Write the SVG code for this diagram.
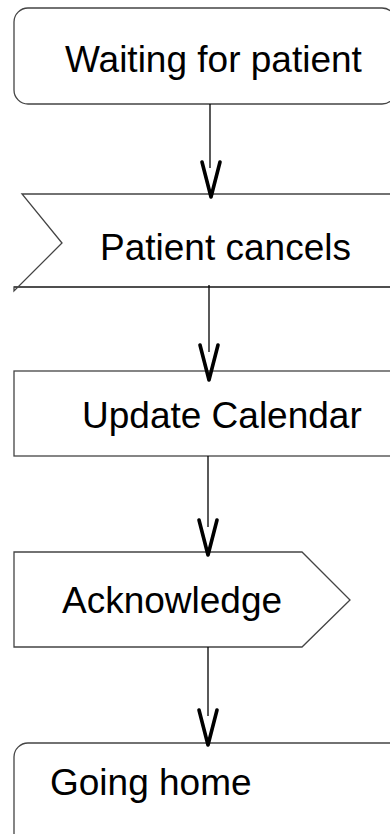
<svg xmlns="http://www.w3.org/2000/svg" xmlns:xlink="http://www.w3.org/1999/xlink" width="390" height="834" viewBox="0 0 390 834">
  <style>
    .shape { fill: #ffffff; stroke: #444444; stroke-width: 1.3; }
    .label { font-family: "Liberation Sans", Arial, sans-serif; font-size: 37px; fill: #000000; }
    .flow { fill: none; stroke: #000000; stroke-width: 1.3; }
    .head { fill: none; stroke: #000000; stroke-width: 3.6; stroke-linecap: round; stroke-linejoin: round; }
  </style>
  <defs>
    <!-- open "V" arrowhead, tip at the origin -->
    <path id="vhead" class="head" d="M-9,-35 L0,0 L9,-35"/>
  </defs>

  <g id="waiting-for-patient">
    <rect class="shape" x="14" y="8" width="382" height="96" rx="14" ry="14"/>
    <text class="label" x="65" y="72">Waiting for patient</text>
  </g>

  <g id="patient-cancels">
    <path class="shape" d="M22,194 H400 V287 H14 L14,291 L62,243 Z"/>
    <path class="shape" d="M14,287 H400"/>
    <text class="label" x="100" y="260">Patient cancels</text>
  </g>

  <g id="update-calendar">
    <rect class="shape" x="14" y="371" width="386" height="85"/>
    <text class="label" x="82" y="428">Update Calendar</text>
  </g>

  <g id="acknowledge">
    <path class="shape" d="M14,552 H302 L350,600 L302,647 H14 Z"/>
    <text class="label" x="62" y="613">Acknowledge</text>
  </g>

  <g id="going-home">
    <rect class="shape" x="14" y="743" width="390" height="110" rx="14" ry="14"/>
    <text class="label" x="50" y="795">Going home</text>
  </g>

  <g id="connectors">
    <path class="flow" d="M210,104 V168"/>
    <use xlink:href="#vhead" x="211" y="197"/>
    <path class="flow" d="M209,285 V352"/>
    <use xlink:href="#vhead" x="209" y="380"/>
    <path class="flow" d="M208,456 V527"/>
    <use xlink:href="#vhead" x="208" y="555"/>
    <path class="flow" d="M208,647 V716"/>
    <use xlink:href="#vhead" x="208" y="745"/>
  </g>
</svg>
